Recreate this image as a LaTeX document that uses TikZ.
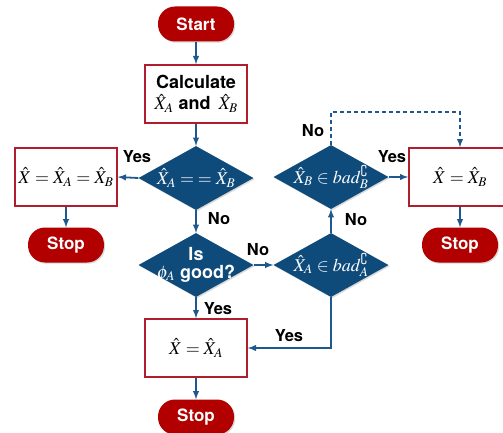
\documentclass[tikz,border=0pt]{standalone}
\usepackage{amssymb}
\usepackage{mathptmx}
\usepackage[no-math]{fontspec}
\setmainfont{TeX Gyre Heros}
\usetikzlibrary{shadows}
\usetikzlibrary{positioning}
\usetikzlibrary{arrows,shapes}
\definecolor{stopred}{RGB}{178,0,0}
\definecolor{decblue}{RGB}{14,74,122}
\definecolor{flowblue}{RGB}{30,88,140}
\definecolor{boxred}{RGB}{176,30,45}
\newcommand{\zerowd}[1]{\makebox[0pt]{#1}}
\tikzstyle{terminal}=[rectangle,rounded corners=17pt,fill=stopred,minimum width=76pt,minimum height=35pt,inner sep=0pt,text=white,font=\fontsize{17}{19}\selectfont\bfseries,drop shadow={shadow xshift=1.2pt,shadow yshift=-1.2pt,opacity=0.3}]
\tikzstyle{process}=[rectangle,draw=boxred,line width=1.6pt,fill=white,minimum width=102pt,minimum height=58pt,inner sep=2pt,align=center,font=\fontsize{18}{21}\selectfont\bfseries,drop shadow={shadow xshift=1.2pt,shadow yshift=-1.2pt,opacity=0.25}]
\tikzstyle{decision}=[diamond,aspect=1.8,fill=decblue,minimum width=115pt,minimum height=64pt,inner sep=0pt,text=white,font=\fontsize{18}{20}\selectfont\bfseries,drop shadow={shadow xshift=1.2pt,shadow yshift=-1.2pt,opacity=0.3}]
\tikzstyle{answer}=[font=\fontsize{16.5}{18}\selectfont\bfseries]
\tikzstyle{flow}=[->,>=latex,line width=1.8pt,draw=flowblue]

\begin{document}
\begin{tikzpicture}[x=1pt,y=-1pt]
\useasboundingbox (0,0) rectangle (503,433);

%terminals
    \foreach \pos/\name/\label in {{(196,24)/start/Start}, {(66,245)/stopL/Stop}, {(460,245)/stopR/Stop}, {(196,417)/stopM/Stop}}
        \node[terminal] (\name) at \pos {\label};

%boxes
    \node[process] (calc) at (196,94) {Calculate\\$\hat{X}_A$ and \,$\hat{X}_B$};
    \node[process] (eqAB) at (66,177) {$\hat{X}=\hat{X}_A=\hat{X}_B$};
    \node[process] (resB) at (460,177) {$\hat{X}=\hat{X}_B$};
    \node[process] (resA) at (196,348) {$\hat{X}=\hat{X}_A$};

%decisions
    \node[decision] (dAB) at (196,178) {\zerowd{$\hat{X}_A = \; = \hat{X}_B$}};
    \node[decision] (good) at (196,265) {\zerowd{\begin{tabular}{@{}c@{}}Is\\[-2pt]$\phi_A$ good?\end{tabular}}};
    \node[decision] (badA) at (331,265) {\zerowd{$\hat{X}_A \in bad^{\complement}_{A}$}};
    \node[decision] (badB) at (331,177) {\zerowd{$\hat{X}_B \in bad^{\complement}_{B}$}};

  \foreach \source/ \dest in {start/calc, calc/dAB, dAB/good, good/resA, resA/stopM, eqAB/stopL, resB/stopR, badA/badB}
          \draw[flow] (\source) -- (\dest);
  \foreach \source/ \dest in {good/badA, badB/resB}
          \draw[flow] (\source.east) -- (\dest.west);
  \draw[flow] (dAB.west) -- (eqAB.east);
  \draw[flow] (badA.south) |- (resA.east);
  \coordinate (turnB) at (331,112);
  \draw[flow,dash pattern=on 4pt off 3pt] (badB.north) -- (turnB) -| (resB.north);

%answers
    \foreach \pos/\name/\label in {{(137,157)/yesAB/Yes}, {(219,219)/noAB/No}, {(258,250)/noGood/No}, {(218,309)/yesGood/Yes}, {(289,336)/yesA/Yes}, {(356,220)/noA/No}, {(313,131)/noB/No}, {(392,157)/yesB/Yes}}
        \node[answer] (\name) at \pos {\label};

\end{tikzpicture}
\end{document}
